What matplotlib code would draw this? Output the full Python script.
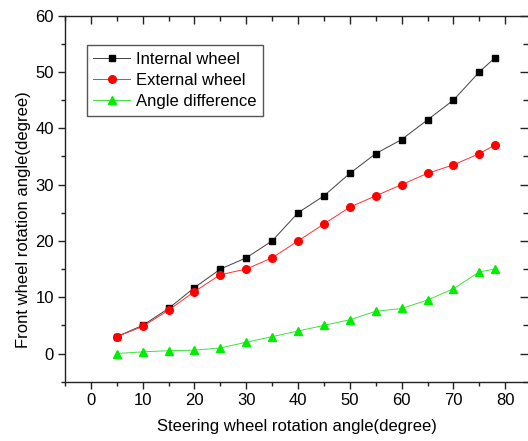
import matplotlib
matplotlib.use('Agg')
import matplotlib.pyplot as plt
from matplotlib.ticker import MultipleLocator

plt.rcParams['font.family'] = ['Liberation Sans', 'DejaVu Sans']
plt.rcParams['font.size'] = 12

# steering wheel angle (degree)
steer = [5, 10, 15, 20, 25, 30, 35, 40, 45, 50, 55, 60, 65, 70, 75, 78]
internal = [3, 5, 8, 11.7, 15, 17, 20, 25, 28, 32, 35.5, 38, 41.5, 45, 50, 52.5]
external = [3, 4.8, 7.7, 11, 14, 15, 17, 20, 23, 26, 28, 30, 32, 33.5, 35.5, 37]
diff = [0, 0.3, 0.5, 0.6, 1, 2, 3, 4, 5, 6, 7.5, 8, 9.5, 11.5, 14.5, 15]

fig = plt.figure(figsize=(5.28, 4.41), dpi=100)
ax = fig.add_axes([0.1231, 0.1345, 1 - 0.1231, 0.830])

ax.plot(steer, internal, color='#404040', lw=0.7, marker='s', ms=5,
        mfc='black', mec='black', label='Internal wheel')
ax.plot(steer, external, color='#ff3030', lw=0.7, marker='o', ms=5.5,
        mfc='red', mec='red', label='External wheel')
ax.plot(steer, diff, color='#40e040', lw=0.7, marker='^', ms=6.2,
        mfc='#00ee00', mec='#00ee00', label='Angle difference')

ax.set_xlim(-5, 84.4)
ax.set_ylim(-5, 60)
ax.xaxis.set_major_locator(MultipleLocator(10))
ax.xaxis.set_minor_locator(MultipleLocator(5))
ax.yaxis.set_major_locator(MultipleLocator(10))
ax.yaxis.set_minor_locator(MultipleLocator(5))
ax.set_xticks(range(0, 81, 10))

for s in ax.spines.values():
    s.set_linewidth(1.0)
    s.set_color('#222222')
ax.spines['right'].set_visible(False)

ax.tick_params(which='both', direction='out', bottom=True, left=True,
               top=False, right=False, color='#222222', width=1.0)
ax.tick_params(which='major', length=5, pad=3)
ax.tick_params(which='minor', length=3)

# inward ticks on top and right, like the original
ax2 = ax.secondary_xaxis('top')
ax2.xaxis.set_major_locator(MultipleLocator(10))
ax2.xaxis.set_minor_locator(MultipleLocator(5))
ax2.tick_params(which='both', direction='in', labeltop=False, color='#222222', width=1.0)
ax2.tick_params(which='major', length=6)
ax2.tick_params(which='minor', length=3.5)
ax2.spines['top'].set_visible(False)
ax3 = ax.secondary_yaxis('right')
ax3.yaxis.set_major_locator(MultipleLocator(10))
ax3.yaxis.set_minor_locator(MultipleLocator(5))
ax3.tick_params(which='both', direction='in', labelright=False, color='#222222', width=1.0)
ax3.tick_params(which='major', length=6)
ax3.tick_params(which='minor', length=3.5)
ax3.spines['right'].set_visible(False)

ax.set_xlabel('Steering wheel rotation angle(degree)')
ax.set_ylabel('Front wheel rotation angle(degree)')
ax.xaxis.set_label_coords(0.5, -0.102)
ax.yaxis.set_label_coords(-0.073, 0.442)

leg = ax.legend(loc='upper left', bbox_to_anchor=(0.047, 0.919), borderaxespad=0,
                numpoints=1, handlelength=2.2, handletextpad=0.36,
                labelspacing=0.36, borderpad=0.4, fancybox=False,
                framealpha=1, edgecolor='#555555')
leg.get_frame().set_linewidth(1.0)

fig.savefig('out.png', dpi=100)
